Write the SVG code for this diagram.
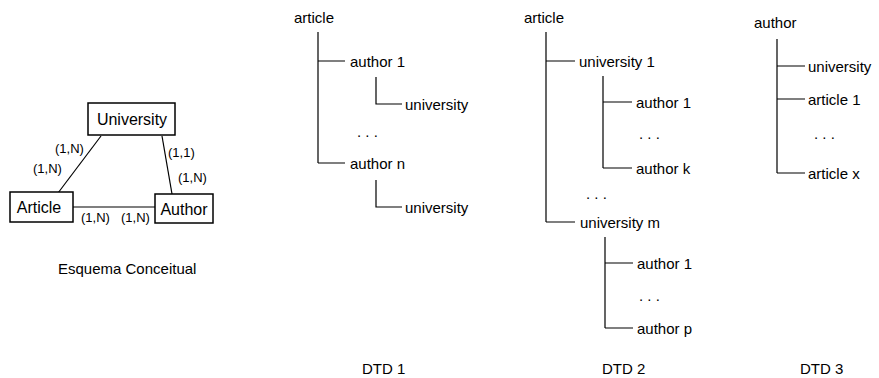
<svg xmlns="http://www.w3.org/2000/svg" width="879" height="378" viewBox="0 0 879 378">
  <style>
    text { font-family: "Liberation Sans", Arial, sans-serif; fill: #000; }
    .box { fill: #fff; stroke: #000; stroke-width: 1.5; }
    .lbl { font-size: 16px; }
    .card { font-size: 13px; }
    .tree { font-size: 15px; }
    .cap { font-size: 15px; }
    .ln { stroke: #000; stroke-width: 1.2; fill: none; }
  </style>
  <rect width="879" height="378" fill="#fff"/>

  <!-- Conceptual schema: relationships -->
  <g id="er-connectors">
    <line class="ln" x1="101" y1="136" x2="58" y2="193"/>
    <line class="ln" x1="162" y1="136" x2="172" y2="194"/>
    <line class="ln" x1="73" y1="207" x2="155" y2="207"/>
  </g>
  <g id="er-university">
    <rect class="box" x="88" y="103" width="87" height="32"/>
    <text class="lbl" x="132" y="125" text-anchor="middle">University</text>
  </g>
  <g id="er-article">
    <rect class="box" x="10" y="192" width="63" height="30"/>
    <text class="lbl" x="39" y="213" text-anchor="middle">Article</text>
  </g>
  <g id="er-author">
    <rect class="box" x="155" y="194" width="58" height="29"/>
    <text class="lbl" x="184" y="215" text-anchor="middle">Author</text>
  </g>
  <g id="er-cardinalities">
    <text class="card" x="55" y="153">(1,N)</text>
    <text class="card" x="33" y="173">(1,N)</text>
    <text class="card" x="168" y="157">(1,1)</text>
    <text class="card" x="178" y="182">(1,N)</text>
    <text class="card" x="81" y="222">(1,N)</text>
    <text class="card" x="121" y="222">(1,N)</text>
  </g>
  <text class="cap" x="58" y="274">Esquema Conceitual</text>

  <!-- DTD 1 -->
  <g id="dtd1-connectors">
    <path class="ln" d="M318,32 V163 M318,61 H345 M318,163 H345"/>
    <path class="ln" d="M376,77 V104 H402"/>
    <path class="ln" d="M376,180 V207 H402"/>
  </g>
  <g id="dtd1-article"><text class="tree" x="294" y="23">article</text></g>
  <g id="dtd1-author1"><text class="tree" x="350" y="67">author 1</text></g>
  <g id="dtd1-university1"><text class="tree" x="405" y="110">university</text></g>
  <text class="tree" x="357" y="137">. . .</text>
  <g id="dtd1-authorn"><text class="tree" x="350" y="169">author n</text></g>
  <g id="dtd1-universityn"><text class="tree" x="405" y="213">university</text></g>
  <text class="cap" x="362" y="374">DTD 1</text>

  <!-- DTD 2 -->
  <g id="dtd2-connectors">
    <path class="ln" d="M546,32 V222 M546,61 H575 M546,222 H575"/>
    <path class="ln" d="M603,76 V168 M603,102 H632 M603,168 H632"/>
    <path class="ln" d="M605,237 V328 M605,263 H633 M605,328 H633"/>
  </g>
  <g id="dtd2-article"><text class="tree" x="524" y="23">article</text></g>
  <g id="dtd2-university1"><text class="tree" x="579" y="67">university 1</text></g>
  <g id="dtd2-u1-author1"><text class="tree" x="636" y="108">author 1</text></g>
  <text class="tree" x="639" y="139">. . .</text>
  <g id="dtd2-u1-authork"><text class="tree" x="636" y="174">author k</text></g>
  <text class="tree" x="586" y="199">. . .</text>
  <g id="dtd2-universitym"><text class="tree" x="580" y="228">university m</text></g>
  <g id="dtd2-um-author1"><text class="tree" x="637" y="269">author 1</text></g>
  <text class="tree" x="639" y="301">. . .</text>
  <g id="dtd2-um-authorp"><text class="tree" x="637" y="334">author p</text></g>
  <text class="cap" x="602" y="374">DTD 2</text>

  <!-- DTD 3 -->
  <g id="dtd3-connectors">
    <path class="ln" d="M777,39 V173 M777,66 H805 M777,99 H805 M777,173 H805"/>
  </g>
  <g id="dtd3-author"><text class="tree" x="754" y="28">author</text></g>
  <g id="dtd3-university"><text class="tree" x="808" y="72">university</text></g>
  <g id="dtd3-article1"><text class="tree" x="808" y="105">article 1</text></g>
  <text class="tree" x="814" y="139">. . .</text>
  <g id="dtd3-articlex"><text class="tree" x="808" y="179">article x</text></g>
  <text class="cap" x="800" y="374">DTD 3</text>
</svg>
